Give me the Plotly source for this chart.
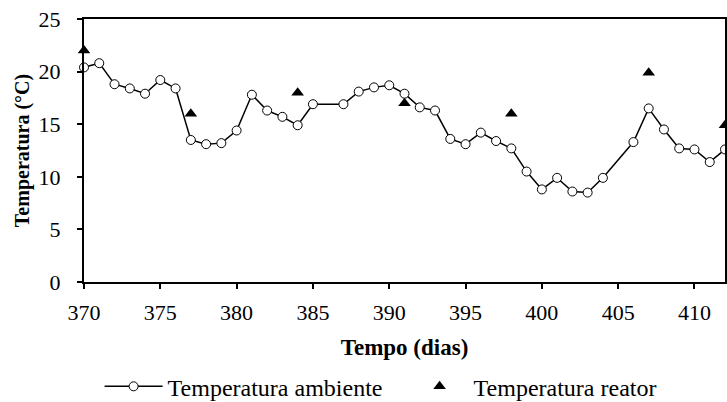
import plotly.graph_objects as go

dias_amb = [370, 371, 372, 373, 374, 375, 376, 377, 378, 379, 380, 381, 382, 383, 384,
            385, 387, 388, 389, 390, 391, 392, 393, 394, 395, 396, 397, 398, 399, 400,
            401, 402, 403, 404, 406, 407, 408, 409, 410, 411, 412]
temp_amb = [20.4, 20.8, 18.8, 18.4, 17.9, 19.2, 18.4, 13.5, 13.1, 13.2, 14.4, 17.8, 16.3, 15.7, 14.9,
            16.9, 16.9, 18.1, 18.5, 18.7, 17.9, 16.6, 16.3, 13.6, 13.1, 14.2, 13.4, 12.7, 10.5, 8.8,
            9.9, 8.6, 8.5, 9.9, 13.3, 16.5, 14.5, 12.7, 12.6, 11.4, 12.6]
dias_reator = [370, 377, 384, 391, 398, 407, 412]
temp_reator = [22.0, 16.0, 18.0, 17.0, 16.0, 19.9, 14.9]

x_ticks = [370, 375, 380, 385, 390, 395, 400, 405, 410]
y_ticks = [0, 5, 10, 15, 20, 25]

FONT = "'Liberation Serif', 'Times New Roman', Times, serif"

fig = go.Figure()
fig.add_trace(go.Scatter(
    x=dias_amb, y=temp_amb, mode="lines+markers", name="Temperatura ambiente",
    line=dict(color="black", width=1.5),
    marker=dict(symbol="circle", size=9, color="white", line=dict(color="black", width=1)),
    cliponaxis=False,
))
fig.add_trace(go.Scatter(
    x=dias_reator, y=temp_reator, mode="markers", name="Temperatura reator",
    marker=dict(symbol="triangle-up", size=11, color="black"),
    cliponaxis=False,
))

axis_common = dict(
    showline=True, linecolor="black", linewidth=2, mirror=True,
    ticks="outside", ticklen=5, tickwidth=1.5, tickcolor="black",
    showgrid=False, zeroline=False, automargin=False,
    tickfont=dict(family=FONT, size=22, color="black"),
)
fig.update_xaxes(range=[370, 412], tickvals=x_ticks, ticklabelstandoff=5,
                 title=dict(text="<b>Tempo (dias)</b>", font=dict(family=FONT, size=23, color="black"), standoff=14),
                 **axis_common)
fig.update_yaxes(range=[0, 25], tickvals=y_ticks, ticklabelstandoff=12,
                 title=dict(text="<b>Temperatura (°C)</b>", font=dict(family=FONT, size=20, color="black"), standoff=4),
                 **axis_common)

fig.update_layout(
    width=727, height=402,
    margin=dict(l=84, r=2, t=19, b=120, autoexpand=False),
    plot_bgcolor="white", paper_bgcolor="white",
    font=dict(family=FONT, size=22, color="black"),
    showlegend=True,
    legend=dict(orientation="h", x=0.137, xanchor="left", xref="container",
                y=0.038, yanchor="middle", yref="container",
                font=dict(family=FONT, size=24, color="black"),
                itemwidth=58, entrywidth=233),
)

fig.write_html("out.html")
